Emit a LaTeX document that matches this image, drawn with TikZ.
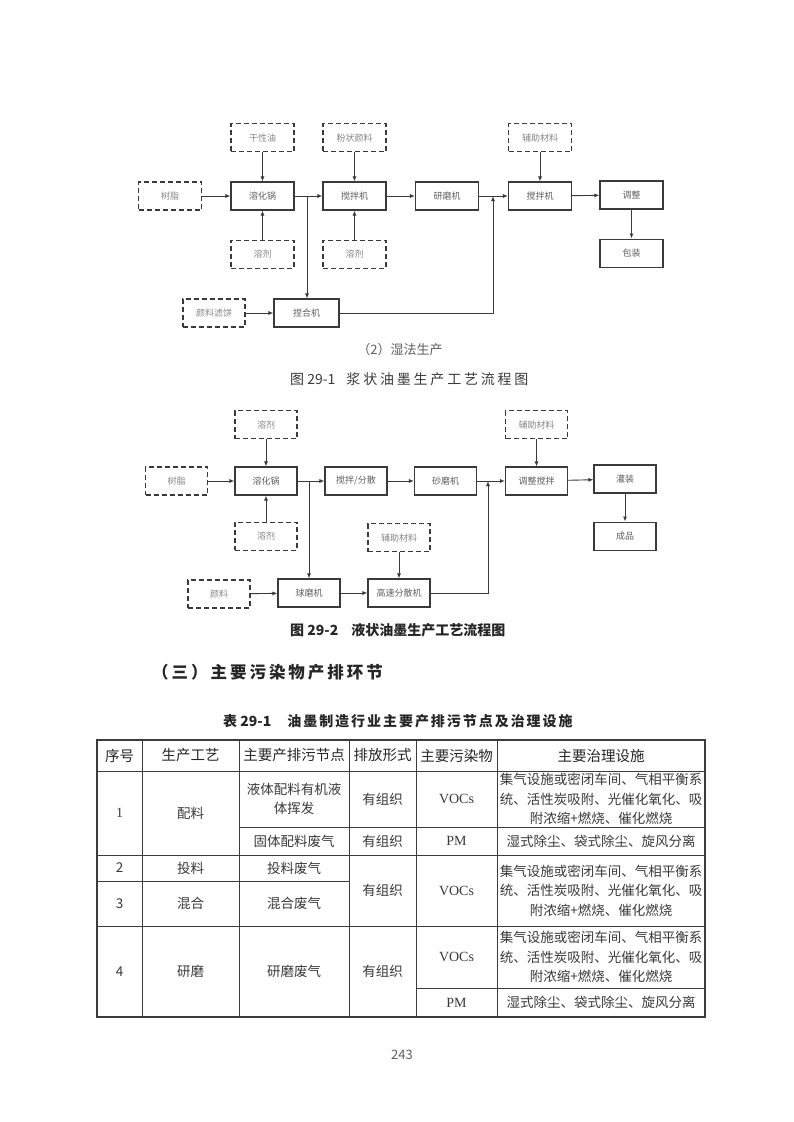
\documentclass[tikz,border=0pt]{standalone}
\usepackage{fontspec}
\setmainfont{Liberation Serif}
\newfontfamily\cjk{Noto Sans CJK SC}
\usetikzlibrary{
  arrows.meta,
  positioning
}
\definecolor{InkGray}{RGB}{58,58,58}
\definecolor{LabelGray}{RGB}{95,95,95}
\definecolor{SoftGray}{RGB}{135,135,135}
\definecolor{RuleGray}{RGB}{60,60,60}
\tikzset{
  procbox/.style={draw=InkGray,line width=1.1pt,minimum width=63pt,minimum height=28pt,inner sep=1pt,text=LabelGray,font=\cjk\fontsize{9}{9}\selectfont},
  feedbox/.style={procbox,dash pattern=on 5pt off 3pt,text=SoftGray},
  flow/.style={-{Latex[length=5pt,width=4pt]},line width=0.9pt,draw=InkGray},
  joint/.style={line width=0.9pt,draw=InkGray},
  cell/.style={align=center,inner sep=0pt,text=InkGray,font=\cjk\fontsize{13.5}{19.5}\selectfont},
  headcell/.style={cell,font=\cjk\fontsize{14.5}{17}\selectfont,text=black!85},
  latcell/.style={cell,font=\fontsize{14}{17}\selectfont},
  thinrule/.style={line width=0.7pt,draw=RuleGray},
  thickrule/.style={line width=1.4pt,draw=RuleGray}
}

\begin{document}
\begin{tikzpicture}[x=1pt,y=-1pt]
\useasboundingbox[fill=white] (0,0) rectangle (793,1122);

\node[procbox] (melt1) at (262.5,196) {溶化锅};
\node[feedbox] (resin1) at (170,196) {树脂};
\node[feedbox, above=29pt of melt1] (oil) {干性油};
\node[feedbox, below=29pt of melt1] (solvA) {溶剂};
\node[procbox] (mixA) at (354.5,196) {搅拌机};
\node[feedbox, above=29pt of mixA] (pigpow) {粉状颜料};
\node[feedbox, below=29pt of mixA] (solvB) {溶剂};
\node[procbox] (grind) at (447,196) {研磨机};
\node[procbox] (mixB) at (540,196) {搅拌机};
\node[feedbox, above=29pt of mixB] (aux1) {辅助材料};
\node[procbox] (adjust) at (631.5,195) {调整};
\node[procbox, below=29pt of adjust] (pack) {包装};
\node[feedbox, minimum width=62pt] (cake) at (214,313) {颜料滤饼};
\node[procbox, minimum width=65pt] (knead) at (306.5,313) {捏合机};
\coordinate (fork1) at (307,196);
\coordinate (merge1) at (493,196);

\draw[flow] (resin1) -- (melt1);
\draw[flow] (oil) -- (melt1);
\draw[flow] (solvA) -- (melt1);
\draw[joint] (melt1) -- (fork1);
\draw[flow] (fork1) -- (mixA);
\draw[flow] (fork1) -- (fork1 |- knead.north);
\draw[flow] (pigpow) -- (mixA);
\draw[flow] (solvB) -- (mixA);
\draw[flow] (mixA) -- (grind);
\draw[flow] (grind) -- (mixB);
\draw[flow] (aux1) -- (mixB);
\draw[flow] (mixB) -- (adjust);
\draw[flow] (adjust) -- (pack);
\draw[flow] (cake) -- (knead);
\draw[flow] (knead.east) -| (merge1);

\node[font=\cjk\fontsize{13}{13}\selectfont,text=LabelGray] (subhead) at (400,350) {（2）湿法生产};
\node[anchor=west,inner sep=0pt,text=InkGray,font=\cjk\fontsize{14}{14}\selectfont] (cap1) at (290,379)
  {图 29-1\hspace{11pt}\addfontfeatures{LetterSpace=20}浆状油墨生产工艺流程图};

\node[procbox, minimum width=62pt] (melt2) at (266,481) {溶化锅};
\node[feedbox, minimum width=62pt] (resin2) at (176.5,481) {树脂};
\node[feedbox, minimum width=62pt, above=27pt of melt2] (solvT) {溶剂};
\node[feedbox, minimum width=62pt, below=26pt of melt2] (solvD) {溶剂};
\node[procbox, minimum width=62pt] (disp) at (356,481) {搅拌/分散};
\node[procbox, minimum width=62pt] (sand) at (445.5,481) {砂磨机};
\node[procbox, minimum width=62pt] (tune) at (536.5,481) {调整搅拌};
\node[feedbox, minimum width=62pt, above=27pt of tune] (auxT) {辅助材料};
\node[procbox, minimum width=62pt] (fill) at (625,479) {灌装};
\node[procbox, minimum width=62pt, below=28pt of fill] (prod) {成品};
\node[feedbox, minimum width=62pt] (pig) at (219,594) {颜料};
\node[procbox, minimum width=62pt] (ball) at (309,593) {球磨机};
\node[procbox, minimum width=62pt] (hsd) at (399,593) {高速分散机};
\node[feedbox, minimum width=62pt, above=26pt of hsd] (auxL) {辅助材料};
\coordinate (fork2) at (309,481);
\coordinate (merge2) at (488,481);

\draw[flow] (resin2) -- (melt2);
\draw[flow] (solvT) -- (melt2);
\draw[flow] (solvD) -- (melt2);
\draw[joint] (melt2) -- (fork2);
\draw[flow] (fork2) -- (disp);
\draw[flow] (fork2) -- (fork2 |- ball.north);
\draw[flow] (disp) -- (sand);
\draw[flow] (sand) -- (tune);
\draw[flow] (auxT) -- (tune);
\draw[flow] (tune) -- (fill);
\draw[flow] (fill) -- (prod);
\draw[flow] (pig) -- (ball);
\draw[flow] (ball) -- (hsd);
\draw[flow] (auxL) -- (hsd);
\draw[flow] (hsd.east) -| (merge2);

\node[anchor=west,inner sep=0pt,text=black!85,font=\cjk\bfseries\fontsize{14}{14}\selectfont] (cap2) at (290,630)
  {图 29-2\hspace{13pt}液状油墨生产工艺流程图};
\node[anchor=west,inner sep=0pt,text=black!85,font=\cjk\bfseries\fontsize{16.5}{16.5}\selectfont] (head3) at (152,672)
  {\addfontfeatures{LetterSpace=18}（三）主要污染物产排环节};
\node[anchor=west,inner sep=0pt,text=black!85,font=\cjk\bfseries\fontsize{14}{14}\selectfont] (tcap) at (223,721)
  {表 29-1\hspace{16pt}\addfontfeatures{LetterSpace=14}油墨制造行业主要产排污节点及治理设施};

\draw[thickrule] (97,740) rectangle (705,1017);
\foreach \xx in {142,239,349,416,497} \draw[thinrule] (\xx,740) -- (\xx,1017);
\draw[thinrule] (97,771) -- (705,771);
\draw[thinrule] (239,827) -- (705,827);
\draw[thinrule] (97,855) -- (705,855);
\draw[thinrule] (97,881) -- (349,881);
\draw[thinrule] (97,926) -- (705,926);
\draw[thinrule] (416,988) -- (705,988);

\node[headcell] (h1) at (119.5,755.5) {序号};
\node[headcell] (h2) at (190.5,755.5) {生产工艺};
\node[headcell] (h3) at (294,755.5) {主要产排污节点};
\node[headcell] (h4) at (382.5,755.5) {排放形式};
\node[headcell] (h5) at (456.5,755.5) {主要污染物};
\node[headcell] (h6) at (601,755.5) {主要治理设施};

\node[latcell] (n1) at (119.5,813) {1};
\node[cell] (p1) at (190.5,813) {配料};
\node[cell] (s1a) at (294,799) {液体配料有机液\\体挥发};
\node[cell] (f1a) at (382.5,799) {有组织};
\node[latcell] (g1a) at (456.5,799) {VOCs};
\node[cell] (t1a) at (601,799) {集气设施或密闭车间、气相平衡系\\统、活性炭吸附、光催化氧化、吸\\附浓缩+燃烧、催化燃烧};
\node[cell] (s1b) at (294,841) {固体配料废气};
\node[cell] (f1b) at (382.5,841) {有组织};
\node[latcell] (g1b) at (456.5,841) {PM};
\node[cell] (t1b) at (601,841) {湿式除尘、袋式除尘、旋风分离};

\node[cell] (n2) at (119.5,868) {2};
\node[cell] (p2) at (190.5,868) {投料};
\node[cell] (s2) at (294,868) {投料废气};
\node[cell] (n3) at (119.5,903.5) {3};
\node[cell] (p3) at (190.5,903.5) {混合};
\node[cell] (s3) at (294,903.5) {混合废气};
\node[cell] (f23) at (382.5,890.5) {有组织};
\node[latcell] (g23) at (456.5,890.5) {VOCs};
\node[cell] (t23) at (601,890.5) {集气设施或密闭车间、气相平衡系\\统、活性炭吸附、光催化氧化、吸\\附浓缩+燃烧、催化燃烧};

\node[cell] (n4) at (119.5,971.5) {4};
\node[cell] (p4) at (190.5,971.5) {研磨};
\node[cell] (s4) at (294,971.5) {研磨废气};
\node[cell] (f4) at (382.5,971.5) {有组织};
\node[latcell] (g4a) at (456.5,957) {VOCs};
\node[cell] (t4a) at (601,957) {集气设施或密闭车间、气相平衡系\\统、活性炭吸附、光催化氧化、吸\\附浓缩+燃烧、催化燃烧};
\node[latcell] (g4b) at (456.5,1002.5) {PM};
\node[cell] (t4b) at (601,1002.5) {湿式除尘、袋式除尘、旋风分离};

\node[font=\cjk\fontsize{13}{13}\selectfont,text=LabelGray] (pageno) at (402,1055) {243};
\end{tikzpicture}
\end{document}
